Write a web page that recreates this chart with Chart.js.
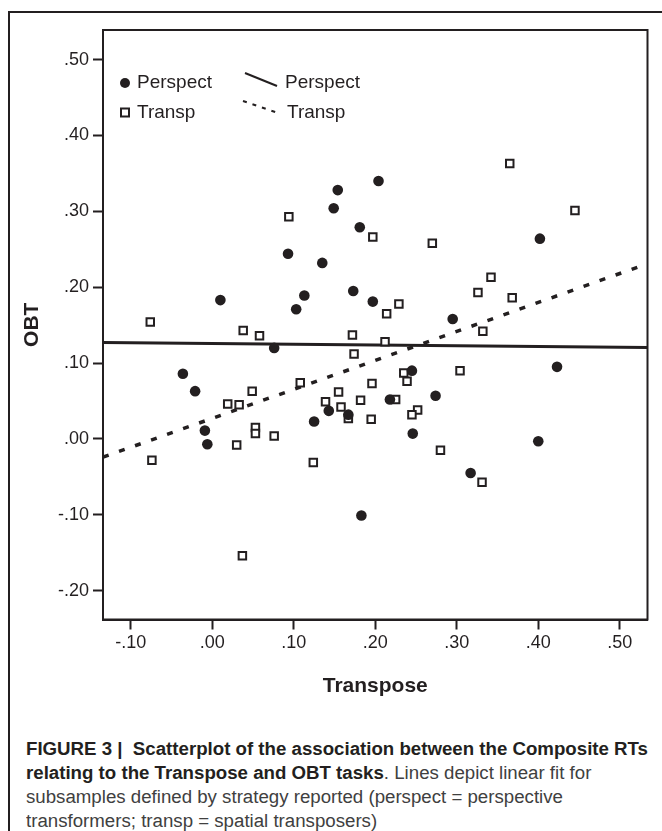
<!DOCTYPE html>
<html>
<head>
<meta charset="utf-8">
<title>Figure 3</title>
<script src="https://cdn.jsdelivr.net/npm/chart.js@4.4.1/dist/chart.umd.min.js"></script>
<style>
  body { margin: 0; background: #fff; }
  #page { position: relative; width: 662px; height: 831px; overflow: hidden; }
  #frame { position: absolute; left: 8px; top: 11px; width: 700px; height: 900px; border: 2px solid #231f20; }
  #wrap { position: absolute; left: 0; top: 0; width: 662px; height: 720px; }
  #caption { position: absolute; left: 26px; top: 737px; white-space: nowrap; transform-origin: 0 0;
    font-family: 'Liberation Sans', Arial, sans-serif;
    font-size: 18px; line-height: 24px; color: #404040; }
  #caption b { color: #231f20; }
</style>
</head>
<body>
<div id="page">
  <div id="frame"></div>
  <div id="wrap"><canvas id="scatterChart"></canvas></div>
  <div id="caption">
    <b id="capLine1">FIGURE 3 |&nbsp; Scatterplot of the association between the Composite RTs</b><br>
    <b>relating to the Transpose and OBT tasks</b>. Lines depict linear fit for<br>
    subsamples defined by strategy reported (perspect = perspective<br>
    transformers; transp = spatial transposers)
  </div>
</div>
<script>
// data
var perspX = [0.010, 0.093, 0.103, 0.113, 0.135, 0.149, 0.154, 0.173, 0.204, 0.181, 0.402, 0.197, 0.295, 0.076, -0.036,
  -0.021, 0.143, 0.167, 0.125, -0.009, -0.006, 0.423, 0.245, 0.274, 0.218, 0.246, 0.400, 0.317, 0.183];
var perspY = [0.183, 0.244, 0.171, 0.189, 0.232, 0.304, 0.328, 0.195, 0.340, 0.279, 0.264, 0.181, 0.158, 0.120, 0.086,
  0.063, 0.037, 0.032, 0.023, 0.011, -0.007, 0.095, 0.090, 0.057, 0.052, 0.007, -0.003, -0.045, -0.101];

var transpX = [-0.076, 0.038, 0.058, 0.094, 0.172, 0.197, 0.270, 0.365, 0.445, 0.342, 0.326, 0.368, 0.229, 0.214, 0.332,
  0.212, 0.174, 0.108, 0.049, 0.019, 0.033, 0.155, 0.139, 0.158, 0.167, 0.053, 0.053, 0.076, 0.030, -0.074, 0.124,
  0.304, 0.235, 0.239, 0.196, 0.182, 0.225, 0.252, 0.245, 0.195, 0.280, 0.331, 0.037];
var transpY = [0.154, 0.143, 0.136, 0.293, 0.137, 0.266, 0.258, 0.363, 0.301, 0.213, 0.193, 0.186, 0.178, 0.165, 0.142,
  0.128, 0.112, 0.074, 0.063, 0.046, 0.045, 0.062, 0.049, 0.042, 0.027, 0.015, 0.007, 0.004, -0.008, -0.028, -0.031,
  0.090, 0.087, 0.076, 0.073, 0.051, 0.052, 0.038, 0.032, 0.026, -0.015, -0.057, -0.154];

// linear fit lines (ends at the plot edges)
var fitX = [-0.134, 0.534];
var perspFitY = [0.127, 0.1205];
var transpFitY = [-0.024, 0.231];

var xTicks = [-0.1, 0, 0.1, 0.2, 0.3, 0.4, 0.5];
var xTickLabels = ['-.10', '.00', '.10', '.20', '.30', '.40', '.50'];
var yTicks = [-0.2, -0.1, 0, 0.1, 0.2, 0.3, 0.4, 0.5];
var yTickLabels = ['-.20', '-.10', '.00', '.10', '.20', '.30', '.40', '.50'];

var ink = '#231f20';
Chart.defaults.font.family = "'Liberation Sans', Arial, sans-serif";
Chart.defaults.color = ink;

function pairs(xs, ys) {
  return xs.map(function (x, i) { return { x: x, y: ys[i] }; });
}

// box round the plot area
var framePlugin = {
  id: 'frame',
  beforeDatasetsDraw: function (chart) {
    var a = chart.chartArea, c = chart.ctx;
    c.save();
    c.strokeStyle = ink;
    c.lineWidth = 2;
    c.strokeRect(a.left, a.top, a.right - a.left, a.bottom - a.top);
    c.restore();
  }
};

// legend in the top left corner of the plot
var keyPlugin = {
  id: 'key',
  afterDraw: function (chart) {
    var c = chart.ctx;
    var ds = chart.data.datasets;
    c.save();
    c.fillStyle = ink;
    c.strokeStyle = ink;
    c.font = "19px 'Liberation Sans', Arial, sans-serif";
    c.textBaseline = 'middle';
    c.textAlign = 'left';

    c.beginPath();
    c.arc(125, 83, 5, 0, Math.PI * 2);
    c.fill();
    c.fillText(ds[0].label, 137, 83);

    c.lineWidth = 2;
    c.fillStyle = '#fff';
    c.fillRect(121, 108.5, 8, 8);
    c.strokeRect(121, 108.5, 8, 8);
    c.fillStyle = ink;
    c.fillText(ds[1].label, 137, 113);

    c.beginPath();
    c.moveTo(245, 73);
    c.lineTo(277, 86);
    c.stroke();
    c.fillText(ds[0].label, 285, 83);

    c.setLineDash([4, 6]);
    c.beginPath();
    c.moveTo(243, 101);
    c.lineTo(278, 113);
    c.stroke();
    c.setLineDash([]);
    c.fillText(ds[1].label, 287, 113);
    c.restore();
  }
};

var ctx = document.getElementById('scatterChart').getContext('2d');
var scatterChart = new Chart(ctx, {
  type: 'scatter',
  data: {
    datasets: [{
      label: 'Perspect',
      data: pairs(perspX, perspY),
      pointStyle: 'circle',
      pointRadius: 5.3,
      backgroundColor: ink,
      borderWidth: 0
    }, {
      label: 'Transp',
      data: pairs(transpX, transpY),
      pointStyle: 'rect',
      pointRadius: 5.3,
      backgroundColor: '#fff',
      borderColor: ink,
      borderWidth: 2
    }, {
      type: 'line',
      label: 'Perspect fit',
      data: pairs(fitX, perspFitY),
      borderColor: ink,
      borderWidth: 3,
      pointRadius: 0,
      fill: false
    }, {
      type: 'line',
      label: 'Transp fit',
      data: pairs(fitX, transpFitY),
      borderColor: ink,
      borderWidth: 3.5,
      borderDash: [6, 11],
      borderCapStyle: 'butt',
      pointRadius: 0,
      fill: false
    }]
  },
  options: {
    responsive: true,
    maintainAspectRatio: false,
    animation: false,
    layout: { padding: { top: 30, right: 14.5, left: 0, bottom: 0 } },
    plugins: {
      legend: { display: false },
      tooltip: { enabled: false }
    },
    scales: {
      x: {
        type: 'linear',
        min: -0.134,
        max: 0.534,
        afterBuildTicks: function (s) { s.ticks = xTicks.map(function (v) { return { value: v }; }); },
        afterFit: function (s) { s.height = 100.5; },
        ticks: {
          callback: function (v, i) { return xTickLabels[i]; },
          font: { size: 18 },
          color: ink,
          padding: 3,
          maxRotation: 0,
          autoSkip: false
        },
        grid: { drawOnChartArea: false, tickLength: 10, tickWidth: 2, tickColor: ink, color: ink },
        border: { color: ink, width: 2 },
        title: { display: true, text: 'Transpose', font: { size: 21, weight: 'bold' }, color: ink, padding: { bottom: 21 } }
      },
      y: {
        type: 'linear',
        min: -0.238,
        max: 0.539,
        afterBuildTicks: function (s) { s.ticks = yTicks.map(function (v) { return { value: v }; }); },
        afterFit: function (s) { s.width = 103; },
        ticks: {
          callback: function (v, i) { return yTickLabels[i]; },
          font: { size: 18 },
          color: ink,
          padding: 4,
          autoSkip: false
        },
        grid: { drawOnChartArea: false, tickLength: 10, tickWidth: 2, tickColor: ink, color: ink },
        border: { color: ink, width: 2 },
        title: { display: true, text: 'OBT', font: { size: 21, weight: 'bold' }, color: ink, padding: { top: 20 } }
      }
    }
  },
  plugins: [framePlugin, keyPlugin]
});

// caption is set in a condensed face in the original: squeeze it to the same line length
var cap = document.getElementById('caption');
var firstLine = document.getElementById('capLine1');
var squeeze = 622 / firstLine.getBoundingClientRect().width;
cap.style.transform = 'scaleX(' + squeeze + ')';
</script>
</body>
</html>
